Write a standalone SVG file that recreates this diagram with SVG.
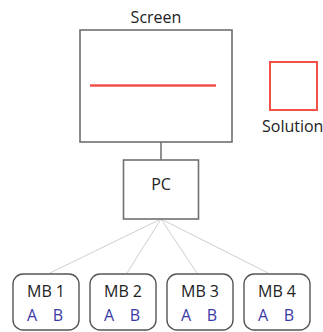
<svg xmlns="http://www.w3.org/2000/svg" width="323" height="332" viewBox="0 0 323 332">
<style>
text{font-family:"Open Sans","Noto Sans",sans-serif;font-size:16px;fill:#222}
.box{fill:#fff;stroke:#707070;stroke-width:1.6}
.mb{fill:#fff;stroke:#555;stroke-width:1.4}
.ab{fill:#3a3aa8}
.wire{stroke:#cfcfcf;stroke-width:1;fill:none}
</style>
<rect width="323" height="332" fill="#fff"/>
<g id="connectors">
<line x1="161" y1="142" x2="161" y2="160" stroke="#555" stroke-width="1.3"/>
<line class="wire" x1="161" y1="219" x2="50" y2="273"/>
<line class="wire" x1="161" y1="219" x2="127" y2="273"/>
<line class="wire" x1="161" y1="219" x2="197" y2="273"/>
<line class="wire" x1="161" y1="219" x2="268" y2="273"/>
</g>
<g id="screen">
<text x="156" y="23" text-anchor="middle">Screen</text>
<rect class="box" x="80" y="30" width="152" height="112"/>
<line x1="90" y1="85.5" x2="216" y2="85.5" stroke="#f0524a" stroke-width="2.5"/>
</g>
<g id="solution">
<rect x="270" y="62" width="47" height="48" fill="#fff" stroke="#f0524a" stroke-width="2"/>
<text x="262" y="132">Solution</text>
</g>
<g id="pc">
<rect class="box" x="123.5" y="160" width="75" height="59"/>
<text x="161" y="190" text-anchor="middle">PC</text>
</g>
<g id="mb1">
<rect class="mb" x="13" y="274" width="66" height="56" rx="10"/>
<text x="46" y="297" text-anchor="middle">MB 1</text>
<text class="ab" x="32" y="321" text-anchor="middle">A</text>
<text class="ab" x="58" y="321" text-anchor="middle">B</text>
</g>
<g id="mb2">
<rect class="mb" x="90" y="274" width="66" height="56" rx="10"/>
<text x="123" y="297" text-anchor="middle">MB 2</text>
<text class="ab" x="109" y="321" text-anchor="middle">A</text>
<text class="ab" x="135" y="321" text-anchor="middle">B</text>
</g>
<g id="mb3">
<rect class="mb" x="167" y="274" width="66" height="56" rx="10"/>
<text x="200" y="297" text-anchor="middle">MB 3</text>
<text class="ab" x="186" y="321" text-anchor="middle">A</text>
<text class="ab" x="212" y="321" text-anchor="middle">B</text>
</g>
<g id="mb4">
<rect class="mb" x="244" y="274" width="66" height="56" rx="10"/>
<text x="277" y="297" text-anchor="middle">MB 4</text>
<text class="ab" x="263" y="321" text-anchor="middle">A</text>
<text class="ab" x="289" y="321" text-anchor="middle">B</text>
</g>
</svg>
